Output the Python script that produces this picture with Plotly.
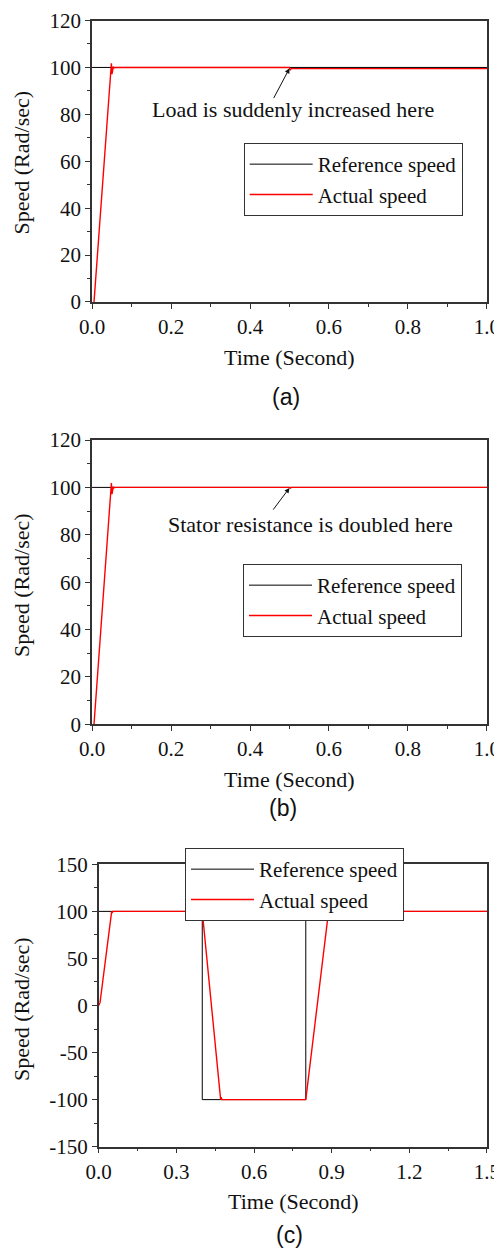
import plotly.graph_objects as go

# ---------------- data ----------------
# Panel (a): load suddenly increased at t = 0.5 s
ref_a_t = [0.0, 1.0]
ref_a_y = [100, 100]
act_a_t = [0.005, 0.048, 0.049, 0.0505, 0.052, 0.053, 0.054, 0.056, 0.06, 0.5, 0.502, 0.505, 1.0]
act_a_y = [0, 100, 101.8, 97.2, 99.6, 98.6, 100.3, 99.9, 100, 100, 99.0, 99.5, 99.5]

# Panel (b): stator resistance doubled at t = 0.5 s
ref_b_t = [0.0, 1.0]
ref_b_y = [100, 100]
act_b_t = [0.005, 0.048, 0.049, 0.0505, 0.052, 0.053, 0.054, 0.056, 0.06, 0.5, 0.502, 0.505, 1.0]
act_b_y = [0, 100, 101.8, 97.2, 99.6, 98.6, 100.3, 99.9, 100, 100, 99.7, 100, 100]

# Panel (c): speed reversal
ref_c_t = [0.0, 0.4, 0.4, 0.8, 0.8, 1.5]
ref_c_y = [100, 100, -100, -100, 100, 100]
act_c_t = [0.0, 0.005, 0.05, 0.052, 0.055, 0.4, 0.471, 0.473, 0.476, 0.8, 0.888, 0.890, 0.893, 1.5]
act_c_y = [0, 3, 100, 98.5, 100, 100, -100, -97.5, -100, -100, 100, 98.5, 100, 100]

x_ticks_ab = [0.0, 0.2, 0.4, 0.6, 0.8, 1.0]
x_labels_ab = ["0.0", "0.2", "0.4", "0.6", "0.8", "1.0"]
y_ticks_ab = [0, 20, 40, 60, 80, 100, 120]
y_labels_ab = ["0", "20", "40", "60", "80", "100", "120"]
x_ticks_c = [0.0, 0.3, 0.6, 0.9, 1.2, 1.5]
x_labels_c = ["0.0", "0.3", "0.6", "0.9", "1.2", "1.5"]
y_ticks_c = [-150, -100, -50, 0, 50, 100, 150]
y_labels_c = ["-150", "-100", "-50", "0", "50", "100", "150"]

series_names = ["Reference speed", "Actual speed"]
panel_labels = ["(a)", "(b)", "(c)"]
notes = ["Load is suddenly increased here", "Stator resistance is doubled here"]

# ---------------- layout helpers ----------------
PAGE_W, PAGE_H = 502, 1251
OFF = 8  # default body margin of the page
W, H = PAGE_W - OFF, PAGE_H - OFF
SERIF = "Liberation Serif, Times New Roman, serif"
SANS = "Liberation Sans, Arial, sans-serif"
AX = "#333333"
REF_C = "#000000"
ACT_C = "#ff0000"
EPS = 1e-4


def px_x(p):
    return (p - OFF) / W


def px_y(p):
    return 1 - (p - OFF) / H


fig = go.Figure()

panels = [
    dict(rt=ref_a_t, ry=ref_a_y, at=act_a_t, ay=act_a_y, xa="x", ya="y", leg="legend"),
    dict(rt=ref_b_t, ry=ref_b_y, at=act_b_t, ay=act_b_y, xa="x2", ya="y2", leg="legend2"),
    dict(rt=ref_c_t, ry=ref_c_y, at=act_c_t, ay=act_c_y, xa="x3", ya="y3", leg="legend3"),
]
for p in panels:
    fig.add_trace(go.Scatter(x=p["rt"], y=p["ry"], mode="lines", name=series_names[0],
                             line=dict(color=REF_C, width=1), xaxis=p["xa"], yaxis=p["ya"],
                             legend=p["leg"]))
    fig.add_trace(go.Scatter(x=p["at"], y=p["ay"], mode="lines", name=series_names[1],
                             line=dict(color=ACT_C, width=1.4), xaxis=p["xa"], yaxis=p["ya"],
                             legend=p["leg"]))


def axis_style(tickvals, ticktext, rng, minor_dtick, minor_tick0, domain, anchor):
    span = rng[1] - rng[0]
    return dict(
        domain=domain, anchor=anchor, range=[rng[0] - EPS * span, rng[1] + EPS * span],
        tickmode="array", automargin=False, ticklabeloverflow="allow",
        tickvals=tickvals, ticktext=ticktext, showgrid=False, zeroline=False,
        showline=True, linecolor=AX, linewidth=1.5, mirror=True,
        ticks="outside", ticklen=5, tickwidth=1.2, tickcolor=AX,
        tickfont=dict(family=SERIF, size=21, color="#111"),
        minor=dict(ticks="outside", ticklen=3, tickwidth=1, tickcolor=AX,
                   dtick=minor_dtick, tick0=minor_tick0, showgrid=False),
    )


xa_dom = [px_x(92), px_x(487)]
xc_dom = [px_x(98.7), px_x(487)]
ya_dom = [px_y(302), px_y(20.5)]
yb_dom = [px_y(724.3), px_y(440)]
yc_dom = [px_y(1146.7), px_y(864.3)]

layout = dict(
    width=W, height=H, margin=dict(l=0, r=0, t=0, b=0, autoexpand=False),
    paper_bgcolor="white", plot_bgcolor="white",
    xaxis=axis_style(x_ticks_ab, x_labels_ab, [0, 1], 0.1, 0.1, xa_dom, "y"),
    yaxis=axis_style(y_ticks_ab, y_labels_ab, [0, 120], 10, 10, ya_dom, "x"),
    xaxis2=axis_style(x_ticks_ab, x_labels_ab, [0, 1], 0.1, 0.1, xa_dom, "y2"),
    yaxis2=axis_style(y_ticks_ab, y_labels_ab, [0, 120], 10, 10, yb_dom, "x2"),
    xaxis3=axis_style(x_ticks_c, x_labels_c, [0, 1.5], 0.15, 0.15, xc_dom, "y3"),
    yaxis3=axis_style(y_ticks_c, y_labels_c, [-150, 150], 25, 25, yc_dom, "x3"),
    showlegend=True,
)

legend_common = dict(xanchor="left", yanchor="top", bgcolor="white", bordercolor=AX,
                     borderwidth=1, font=dict(family=SERIF, size=21, color="#111"),
                     tracegroupgap=0, itemwidth=63)
layout["legend"] = dict(x=px_x(243.7), y=px_y(143), **legend_common)
layout["legend2"] = dict(x=px_x(243), y=px_y(564), **legend_common)
layout["legend3"] = dict(x=px_x(185), y=px_y(848), **legend_common)
fig.update_layout(**layout)

ann = []
# axis titles and panel labels (paper coords from pixel positions)
for (xt_x, xt_y, yt_y, lab_x, lab_y, lab) in [
    (289.7, 357, 162.5, 285.7, 397, panel_labels[0]),
    (289.7, 779, 585, 283, 808, panel_labels[1]),
    (293, 1201, 1009, 289, 1235, panel_labels[2]),
]:
    ann.append(dict(text="Time (Second)", x=px_x(xt_x), y=px_y(xt_y), xref="paper", yref="paper",
                    showarrow=False, xanchor="center", yanchor="middle",
                    font=dict(family=SERIF, size=22, color="#111")))
    ann.append(dict(text="Speed (Rad/sec)", x=px_x(21), y=px_y(yt_y), xref="paper", yref="paper",
                    showarrow=False, xanchor="center", yanchor="middle", textangle=-90,
                    font=dict(family=SERIF, size=22, color="#111")))
    ann.append(dict(text=lab, x=px_x(lab_x), y=px_y(lab_y), xref="paper", yref="paper",
                    showarrow=False, xanchor="center", yanchor="middle",
                    font=dict(family=SANS, size=23, color="#111")))

# event notes with arrows
ann.append(dict(text=notes[0], x=0.509, y=82.1, xref="x", yref="y", showarrow=False,
                font=dict(family=SERIF, size=22, color="#111")))
ann.append(dict(text="", x=0.5, y=99.6, ax=0.458, ay=86.3, xref="x", yref="y",
                axref="x", ayref="y", showarrow=True, arrowhead=2, arrowsize=1,
                arrowwidth=1, arrowcolor="#111"))
ann.append(dict(text=notes[1], x=0.552, y=84.5, xref="x2", yref="y2", showarrow=False,
                font=dict(family=SERIF, size=22, color="#111")))
ann.append(dict(text="", x=0.5, y=99.8, ax=0.456, ay=90.0, xref="x2", yref="y2",
                axref="x2", ayref="y2", showarrow=True, arrowhead=2, arrowsize=1,
                arrowwidth=1, arrowcolor="#111"))
fig.update_layout(annotations=ann)

fig.write_html("out.html")
